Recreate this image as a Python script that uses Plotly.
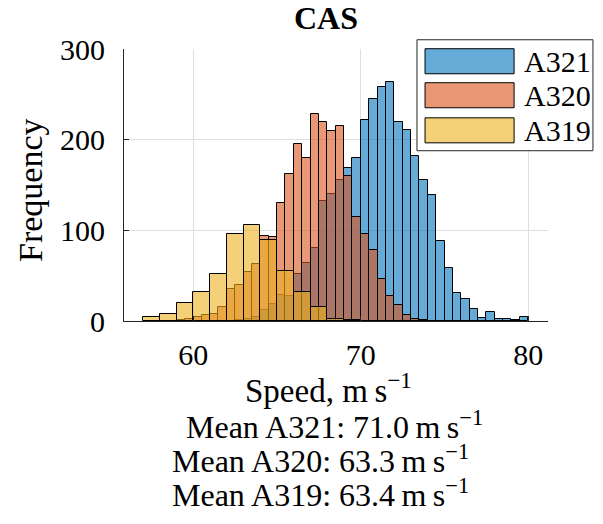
import plotly.graph_objects as go

# Histogram counts per bin (calibrated airspeed, m/s)
a321_start, a321_width = 62.5, 0.5
a321_counts = [1, 2, 4, 12, 19, 29, 28, 52, 64, 81,
               132, 140, 155, 169, 180, 222, 245, 258, 264, 220,
               211, 182, 155, 139, 88, 58, 31, 24, 13, 3,
               10, 2, 2, 1, 4]

a320_start, a320_width = 59.0, 0.5
a320_counts = [1, 2, 4, 7, 8, 15, 35, 40, 54, 63,
               94, 93, 130, 162, 195, 180, 228, 220, 210, 215,
               160, 115, 96, 78, 46, 28, 18, 7, 2, 1]

a319_start, a319_width = 57.0, 1.0
a319_counts = [4, 8, 20, 32, 52, 96, 106, 89, 55, 32, 15, 2, 1]

series_names = ["A321", "A320", "A319"]
mean_values = [71.0, 63.3, 63.4]
x_ticks = [60, 70, 80]
y_ticks = [0, 100, 200, 300]

FONT = "Liberation Serif"
AXIS_GREY = "#262626"
colors = ["rgba(0,114,189,0.6)", "rgba(217,83,25,0.6)", "rgba(237,177,32,0.6)"]

series = [
    (a321_start, a321_width, a321_counts),
    (a320_start, a320_width, a320_counts),
    (a319_start, a319_width, a319_counts),
]

fig = go.Figure()
for name, color, (start, width, counts) in zip(series_names, colors, series):
    centers = [start + width * (i + 0.5) for i in range(len(counts))]
    fig.add_trace(go.Bar(
        x=centers, y=counts, width=width, name=name,
        marker=dict(color=color, line=dict(color="black", width=1)),
        showlegend=False,
    ))

fig.update_layout(
    width=603, height=524,
    margin=dict(l=124, r=55, t=49, b=203),
    paper_bgcolor="white", plot_bgcolor="white",
    barmode="overlay", bargap=0,
    font=dict(family=FONT, size=30, color="black"),
    xaxis=dict(
        range=[55.86, 81.18], tickvals=x_ticks,
        showgrid=True, gridcolor="#dedede", gridwidth=1, zeroline=False,
        showline=True, linecolor=AXIS_GREY, linewidth=1,
        ticks="inside", ticklen=5, tickcolor=AXIS_GREY,
        ticklabelstandoff=7,
        tickfont=dict(family=FONT, size=30),
    ),
    yaxis=dict(
        range=[0, 300], tickvals=y_ticks,
        showgrid=True, gridcolor="#dedede", gridwidth=1, zeroline=False,
        showline=True, linecolor=AXIS_GREY, linewidth=1,
        ticks="inside", ticklen=5, tickcolor=AXIS_GREY,
        ticklabelstandoff=12,
        tickfont=dict(family=FONT, size=30),
    ),
)

unit = "m\u2009s<sup>\u22121</sup>"
annotations = [
    dict(text="<b>CAS</b>", x=0.4757, y=1.113, font=dict(size=32)),
    dict(text="Frequency", x=-0.2217, y=0.4816, textangle=-90, font=dict(size=34)),
    dict(text=f"Speed, {unit}", x=0.482, y=-0.2463, font=dict(size=33)),
]
line_pos = [(0.4976, -0.382), (0.4646, -0.506), (0.4646, -0.632)]
for name, mean, (ax, ay) in zip(series_names, mean_values, line_pos):
    annotations.append(dict(text=f"Mean {name}: {mean:.1f}\u2009{unit}",
                            x=ax, y=ay, font=dict(size=32)))
for a in annotations:
    a.update(xref="paper", yref="paper", showarrow=False,
             xanchor="center", yanchor="middle")

# Legend box drawn in axis-domain coordinates
shapes = [dict(type="rect", xref="paper", yref="paper",
               x0=0.691, x1=1.106, y0=0.626, y1=1.034,
               fillcolor="white", line=dict(color=AXIS_GREY, width=1), layer="above")]
patch_rows = [(0.909, 1.001), (0.784, 0.876), (0.655, 0.747)]
for name, color, (y0, y1) in zip(series_names, colors, patch_rows):
    shapes.append(dict(type="rect", xref="paper", yref="paper",
                       x0=0.710, x1=0.920, y0=y0, y1=y1,
                       fillcolor=color, line=dict(color="black", width=1), layer="above"))
    annotations.append(dict(text=name, xref="paper", yref="paper",
                            x=0.939, y=(y0 + y1) / 2, showarrow=False,
                            xanchor="left", yanchor="middle",
                            font=dict(size=30)))

fig.update_layout(shapes=shapes, annotations=annotations)
fig.write_html("out.html")
